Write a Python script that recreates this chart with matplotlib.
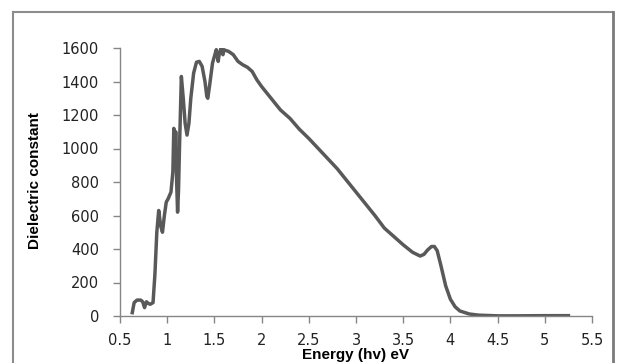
import matplotlib
matplotlib.use("Agg")
import matplotlib.pyplot as plt
from matplotlib.lines import Line2D

# === Data ===
energy = [0.63, 0.65, 0.68, 0.72, 0.74, 0.76, 0.78, 0.80, 0.82, 0.85, 0.87,
          0.89, 0.91, 0.93, 0.95, 0.97, 0.99, 1.01, 1.04, 1.06, 1.07, 1.08,
          1.09, 1.10, 1.11, 1.12, 1.13, 1.15, 1.17, 1.19, 1.21, 1.23, 1.25,
          1.28, 1.31, 1.34, 1.37, 1.40, 1.42, 1.43, 1.45, 1.48, 1.50, 1.52,
          1.54, 1.55, 1.57, 1.59, 1.60, 1.62, 1.65, 1.70, 1.75, 1.80, 1.85,
          1.90, 1.95, 2.00, 2.10, 2.20, 2.30, 2.40, 2.50, 2.60, 2.70, 2.80,
          2.90, 3.00, 3.10, 3.20, 3.30, 3.40, 3.50, 3.60, 3.68, 3.72, 3.76,
          3.80, 3.83, 3.86, 3.90, 3.95, 4.00, 4.05, 4.10, 4.20, 4.30, 4.50,
          4.70, 5.00, 5.25]
dielectric = [20, 80, 95, 95, 85, 50, 85, 75, 70, 80, 250,
              500, 630, 540, 500, 600, 680, 700, 740, 860, 1120, 900,
              1100, 800, 620, 750, 1000, 1430, 1300, 1150, 1080, 1150, 1300,
              1450, 1515, 1520, 1490, 1400, 1310, 1300, 1380, 1510, 1550, 1590,
              1520, 1560, 1600, 1560, 1590, 1585, 1580, 1560, 1520, 1500, 1485,
              1460, 1410, 1370, 1300, 1230, 1180, 1115, 1060, 1000, 940, 880,
              810, 740, 670, 600, 525, 475, 425, 380, 358, 368, 395,
              415, 415, 390, 300, 180, 100, 55, 30, 12, 5, 1,
              1, 2, 2]

xticks = [0.5, 1, 1.5, 2, 2.5, 3, 3.5, 4, 4.5, 5, 5.5]
xticklabels = ["0.5", "1", "1.5", "2", "2.5", "3", "3.5", "4", "4.5", "5", "5.5"]
yticks = [0, 200, 400, 600, 800, 1000, 1200, 1400, 1600]

W, H = 617, 363
fig = plt.figure(figsize=(W / 100, H / 100), dpi=100)
ax = fig.add_axes([120 / W, 1 - 316 / H, 472 / W, 268 / H])

ax.plot(energy, dielectric, color="#595959", lw=2.5, solid_joinstyle="round")

ax.set_xlim(0.5, 5.5)
ax.set_ylim(0, 1600)
ax.set_xticks(xticks)
ax.set_xticklabels(xticklabels)
ax.set_yticks(yticks)

axis_gray = "#868686"
for side in ["top", "right"]:
    ax.spines[side].set_visible(False)
for side in ["left", "bottom"]:
    ax.spines[side].set_color(axis_gray)
    ax.spines[side].set_linewidth(1.0)
ax.tick_params(axis="both", colors=axis_gray, length=5, width=1.0,
               direction="out", labelsize=10.5, labelcolor="#222222")
ax.tick_params(axis="x", pad=7)
ax.tick_params(axis="y", pad=10)

label_font = dict(family=["Liberation Sans", "DejaVu Sans"],
                  weight="bold", size=11)
fig.text(356 / W, 1 - 355 / H, "Energy (hv) eV", ha="center", va="center",
         **label_font)
fig.text(35 / W, 1 - 181 / H, "Dielectric constant", ha="center",
         va="center", rotation=90, **label_font)

# chart-area border like the spreadsheet export
frame_gray = "#8c8c8c"
fig.add_artist(Line2D([13 / W, 13 / W], [0, 1 - 12 / H], color=frame_gray,
                      lw=1.5, transform=fig.transFigure))
fig.add_artist(Line2D([13 / W, 613 / W], [1 - 12 / H, 1 - 12 / H],
                      color=frame_gray, lw=1.5, transform=fig.transFigure))
fig.add_artist(Line2D([613 / W, 613 / W], [0, 1 - 12 / H], color="#7a7a7a",
                      lw=2.0, transform=fig.transFigure))

fig.savefig("out.png", dpi=100)
